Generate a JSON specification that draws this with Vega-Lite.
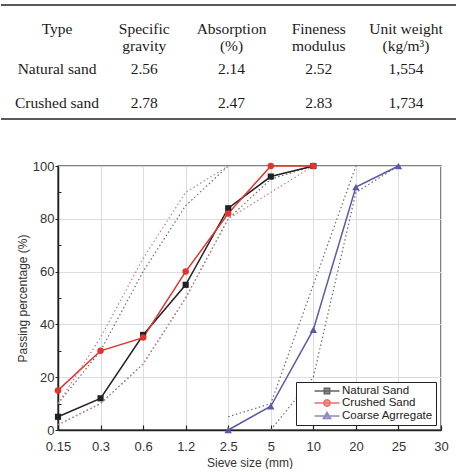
{
  "$schema": "https://vega.github.io/schema/vega-lite/v6.json",
  "background": "white",
  "padding": {"top": 4, "left": 0, "right": 0, "bottom": 0},
  "spacing": 39,
  "config": {"view": {"stroke": null}, "font": "Liberation Sans"},
  "resolve": {
    "scale": {"fill": "independent", "stroke": "independent", "shape": "independent"},
    "legend": {"fill": "independent", "stroke": "independent", "shape": "independent"}
  },
  "datasets": {
    "props": [
      {"row": "h", "col": "Type", "text": "Type"},
      {"row": "h", "col": "Specific gravity", "text": "Specific\ngravity"},
      {"row": "h", "col": "Absorption", "text": "Absorption\n(%)"},
      {"row": "h", "col": "Fineness modulus", "text": "Fineness\nmodulus"},
      {"row": "h", "col": "Unit weight", "text": "Unit weight\n(kg/m³)"},
      {"row": "Natural sand", "col": "Type", "text": "Natural sand"},
      {"row": "Natural sand", "col": "Specific gravity", "text": "2.56"},
      {"row": "Natural sand", "col": "Absorption", "text": "2.14"},
      {"row": "Natural sand", "col": "Fineness modulus", "text": "2.52"},
      {"row": "Natural sand", "col": "Unit weight", "text": "1,554"},
      {"row": "Crushed sand", "col": "Type", "text": "Crushed sand"},
      {"row": "Crushed sand", "col": "Specific gravity", "text": "2.78"},
      {"row": "Crushed sand", "col": "Absorption", "text": "2.47"},
      {"row": "Crushed sand", "col": "Fineness modulus", "text": "2.83"},
      {"row": "Crushed sand", "col": "Unit weight", "text": "1,734"}
    ],
    "rules": [{"edge": "top"}, {"edge": "bottom"}],
    "curves": [
      {"series": "Natural Sand", "sieve": "0.15", "pass": 5},
      {"series": "Natural Sand", "sieve": "0.3", "pass": 12},
      {"series": "Natural Sand", "sieve": "0.6", "pass": 36},
      {"series": "Natural Sand", "sieve": "1.2", "pass": 55},
      {"series": "Natural Sand", "sieve": "2.5", "pass": 84},
      {"series": "Natural Sand", "sieve": "5", "pass": 96},
      {"series": "Natural Sand", "sieve": "10", "pass": 100},
      {"series": "Crushed Sand", "sieve": "0.15", "pass": 15},
      {"series": "Crushed Sand", "sieve": "0.3", "pass": 30},
      {"series": "Crushed Sand", "sieve": "0.6", "pass": 35},
      {"series": "Crushed Sand", "sieve": "1.2", "pass": 60},
      {"series": "Crushed Sand", "sieve": "2.5", "pass": 82},
      {"series": "Crushed Sand", "sieve": "5", "pass": 100},
      {"series": "Crushed Sand", "sieve": "10", "pass": 100},
      {"series": "Coarse Agrregate", "sieve": "2.5", "pass": 0},
      {"series": "Coarse Agrregate", "sieve": "5", "pass": 9},
      {"series": "Coarse Agrregate", "sieve": "10", "pass": 38},
      {"series": "Coarse Agrregate", "sieve": "20", "pass": 92},
      {"series": "Coarse Agrregate", "sieve": "25", "pass": 100}
    ],
    "limits": [
      {"spec": "natural", "curve": "natural lower", "sieve": "0.15", "pass": 2},
      {"spec": "natural", "curve": "natural lower", "sieve": "0.3", "pass": 10},
      {"spec": "natural", "curve": "natural lower", "sieve": "0.6", "pass": 25},
      {"spec": "natural", "curve": "natural lower", "sieve": "1.2", "pass": 50},
      {"spec": "natural", "curve": "natural lower", "sieve": "2.5", "pass": 80},
      {"spec": "natural", "curve": "natural lower", "sieve": "5", "pass": 95},
      {"spec": "natural", "curve": "natural lower", "sieve": "10", "pass": 100},
      {"spec": "natural", "curve": "natural upper", "sieve": "0.15", "pass": 10},
      {"spec": "natural", "curve": "natural upper", "sieve": "0.3", "pass": 30},
      {"spec": "natural", "curve": "natural upper", "sieve": "0.6", "pass": 60},
      {"spec": "natural", "curve": "natural upper", "sieve": "1.2", "pass": 85},
      {"spec": "natural", "curve": "natural upper", "sieve": "2.5", "pass": 100},
      {"spec": "crushed", "curve": "crushed lower", "sieve": "0.15", "pass": 2},
      {"spec": "crushed", "curve": "crushed lower", "sieve": "0.3", "pass": 10},
      {"spec": "crushed", "curve": "crushed lower", "sieve": "0.6", "pass": 25},
      {"spec": "crushed", "curve": "crushed lower", "sieve": "1.2", "pass": 50},
      {"spec": "crushed", "curve": "crushed lower", "sieve": "2.5", "pass": 80},
      {"spec": "crushed", "curve": "crushed lower", "sieve": "5", "pass": 90},
      {"spec": "crushed", "curve": "crushed lower", "sieve": "10", "pass": 100},
      {"spec": "crushed", "curve": "crushed upper", "sieve": "0.15", "pass": 10},
      {"spec": "crushed", "curve": "crushed upper", "sieve": "0.3", "pass": 35},
      {"spec": "crushed", "curve": "crushed upper", "sieve": "0.6", "pass": 65},
      {"spec": "crushed", "curve": "crushed upper", "sieve": "1.2", "pass": 90},
      {"spec": "crushed", "curve": "crushed upper", "sieve": "2.5", "pass": 100},
      {"spec": "coarse", "curve": "coarse upper", "sieve": "2.5", "pass": 5},
      {"spec": "coarse", "curve": "coarse upper", "sieve": "5", "pass": 10},
      {"spec": "coarse", "curve": "coarse upper", "sieve": "10", "pass": 55},
      {"spec": "coarse", "curve": "coarse upper", "sieve": "20", "pass": 100},
      {"spec": "coarse", "curve": "coarse lower", "sieve": "5", "pass": 0},
      {"spec": "coarse", "curve": "coarse lower", "sieve": "10", "pass": 20},
      {"spec": "coarse", "curve": "coarse lower", "sieve": "20", "pass": 90},
      {"spec": "coarse", "curve": "coarse lower", "sieve": "25", "pass": 100}
    ]
  },
  "vconcat": [
    {
      "width": 398,
      "height": 114,
      "layer": [
        {
          "data": {"name": "rules"},
          "mark": {"type": "rule", "stroke": "#222", "strokeWidth": 1.5},
          "encoding": {
            "x": {"datum": "start", "type": "ordinal", "scale": {"type": "point", "domain": ["start", "end"], "range": [-57, 398], "padding": 0}, "axis": null},
            "x2": {"datum": "end"},
            "y": {"field": "edge", "type": "nominal", "scale": {"type": "point", "domain": ["top", "bottom"], "padding": 0}, "axis": null}
          }
        },
        {
          "data": {"name": "props"},
          "transform": [{"filter": "datum.row === 'h'"}],
          "mark": {"type": "text", "font": "Liberation Serif", "fontSize": 15.5, "lineBreak": "\n", "lineHeight": 17, "color": "#1a1a1a", "dy": -6},
          "encoding": {
            "x": {"field": "col", "type": "nominal", "scale": {"type": "point", "domain": ["Type", "Specific gravity", "Absorption", "Fineness modulus", "Unit weight"], "range": [-1, 348], "padding": 0}, "axis": null},
            "y": {"field": "row", "type": "nominal", "scale": {"type": "point", "domain": ["h", "Natural sand", "Crushed sand"], "range": [30, 98], "padding": 0}, "axis": null},
            "text": {"field": "text"}
          }
        },
        {
          "data": {"name": "props"},
          "transform": [{"filter": "datum.row !== 'h'"}],
          "mark": {"type": "text", "font": "Liberation Serif", "fontSize": 15.5, "color": "#1a1a1a"},
          "encoding": {
            "x": {"field": "col", "type": "nominal", "scale": {"type": "point", "domain": ["Type", "Specific gravity", "Absorption", "Fineness modulus", "Unit weight"], "range": [-1, 348], "padding": 0}, "axis": null},
            "y": {"field": "row", "type": "nominal", "scale": {"type": "point", "domain": ["h", "Natural sand", "Crushed sand"], "range": [30, 98], "padding": 0}, "axis": null},
            "text": {"field": "text"}
          }
        }
      ],
      "resolve": {"scale": {"x": "independent", "y": "independent"}}
    },
    {
      "width": 383,
      "height": 264,
      "view": {"stroke": "#555", "strokeWidth": 1.5},
      "encoding": {
        "x": {
          "field": "sieve",
          "type": "ordinal",
          "scale": {"type": "point", "domain": ["0.15", "0.3", "0.6", "1.2", "2.5", "5", "10", "20", "25", "30"], "padding": 0},
          "title": "Sieve size (mm)",
          "axis": {
            "grid": true, "gridColor": "#dcdce4", "domainColor": "#222", "domainWidth": 1.5,
            "tickColor": "#222", "tickSize": -5, "tickWidth": 1.2,
            "labelFontSize": 13, "labelColor": "#333", "labelPadding": 15, "labelAngle": 0,
            "titleFontSize": 12, "titleFontWeight": "normal", "titleColor": "#333", "titlePadding": 4
          }
        }
      },
      "layer": [
        {
          "data": {"name": "limits"},
          "transform": [{"filter": "datum.spec !== 'crushed'"}],
          "mark": {"type": "line", "stroke": "#6e6e6e", "strokeWidth": 1.2, "strokeDash": [1.5, 2.5]},
          "encoding": {
            "y": {
              "field": "pass", "type": "quantitative", "scale": {"domain": [0, 100], "nice": false},
              "title": "Passing percentage (%)",
              "axis": {
                "values": [0, 20, 40, 60, 80, 100], "grid": true, "gridColor": "#dcdce4",
                "domainColor": "#222", "domainWidth": 1.5, "tickColor": "#222", "tickSize": 3,
                "labelFontSize": 13, "labelColor": "#333", "labelPadding": 1,
                "titleFontSize": 12, "titleFontWeight": "normal", "titleColor": "#333", "titlePadding": 3
              }
            },
            "detail": {"field": "curve"},
            "order": {"value": null}
          }
        },
        {
          "data": {"name": "limits"},
          "transform": [{"filter": "datum.spec === 'crushed'"}],
          "mark": {"type": "line", "stroke": "#cf8080", "strokeWidth": 1.2, "strokeDash": [1.5, 2.5]},
          "encoding": {
            "y": {
              "field": "pass", "type": "quantitative",
              "axis": {"values": [10, 30, 50, 70, 90], "orient": "left", "grid": false, "domain": false, "labels": false, "tickSize": -3, "tickColor": "#222", "title": null}
            },
            "detail": {"field": "curve"},
            "order": {"value": null}
          }
        },
        {
          "data": {"name": "curves"},
          "mark": {"type": "line", "strokeWidth": 1.5},
          "encoding": {
            "y": {"field": "pass", "type": "quantitative", "axis": null},
            "color": {"field": "series", "type": "nominal", "scale": {"range": ["#5a5aa8", "#e0342c", "#222222"]}, "legend": null},
            "order": {"value": null}
          }
        },
        {
          "data": {"name": "curves"},
          "transform": [{"filter": "datum.series === 'Natural Sand'"}],
          "mark": {"type": "point", "shape": "square", "filled": true, "opacity": 1, "size": 38, "color": "#222222"},
          "encoding": {
            "y": {"field": "pass", "type": "quantitative", "axis": null}
          }
        },
        {
          "data": {"name": "curves"},
          "transform": [{"filter": "datum.series === 'Crushed Sand'"}],
          "mark": {"type": "point", "shape": "circle", "filled": true, "opacity": 1, "size": 42, "color": "#e0342c"},
          "encoding": {
            "y": {"field": "pass", "type": "quantitative", "axis": null}
          }
        },
        {
          "data": {"name": "curves"},
          "transform": [{"filter": "datum.series === 'Coarse Agrregate'"}],
          "mark": {"type": "point", "shape": "triangle-up", "filled": true, "opacity": 1, "size": 55, "color": "#5a5aa8"},
          "encoding": {
            "y": {"field": "pass", "type": "quantitative", "axis": null}
          }
        },
        {
          "data": {"name": "curves"},
          "transform": [{"filter": "datum.pass < 0"}],
          "mark": {"type": "point", "filled": true},
          "encoding": {
            "y": {"field": "pass", "type": "quantitative", "axis": null},
            "fill": {
              "field": "series", "type": "nominal",
              "scale": {"domain": ["Natural Sand", "Crushed Sand", "Coarse Agrregate"], "range": ["#222222", "#e0342c", "#5a5aa8"]},
              "legend": {"title": null, "orient": "bottom-right", "offset": 5, "padding": 3, "strokeColor": "#222", "fillColor": "white", "symbolSize": 100, "symbolStrokeWidth": 1.5, "labelFontSize": 11.5, "labelColor": "#222", "rowPadding": -2, "symbolOffset": 15, "labelOffset": 16, "cornerRadius": 0}
            },
            "stroke": {
              "field": "series", "type": "nominal",
              "scale": {"domain": ["Natural Sand", "Crushed Sand", "Coarse Agrregate"], "range": ["#222222", "#e0342c", "#5a5aa8"]},
              "legend": {"title": null, "orient": "bottom-right", "offset": 5, "padding": 3, "strokeColor": "#222", "fillColor": "white", "symbolSize": 100, "symbolStrokeWidth": 1.5, "labelFontSize": 11.5, "labelColor": "#222", "rowPadding": -2, "symbolOffset": 15, "labelOffset": 16, "cornerRadius": 0}
            },
            "shape": {
              "field": "series", "type": "nominal",
              "scale": {"domain": ["Natural Sand", "Crushed Sand", "Coarse Agrregate"], "range": [
                "M-1.1,0H3.9M0.86,-0.54H1.94V0.54H0.86Z",
                "M-1.1,0H3.9M2.04,0L1.954,0.32L1.72,0.554L1.4,0.64L1.08,0.554L0.846,0.32L0.76,0L0.846,-0.32L1.08,-0.554L1.4,-0.64L1.72,-0.554L1.954,-0.32Z",
                "M-1.1,0H3.9M1.4,-0.7L2.12,0.52H0.68Z"
              ]},
              "legend": {"title": null, "orient": "bottom-right", "offset": 5, "padding": 3, "strokeColor": "#222", "fillColor": "white", "symbolSize": 100, "symbolStrokeWidth": 1.5, "labelFontSize": 11.5, "labelColor": "#222", "rowPadding": -2, "symbolOffset": 15, "labelOffset": 16, "cornerRadius": 0}
            }
          }
        }
      ],
      "resolve": {"axis": {"y": "independent"}}
    }
  ]
}
